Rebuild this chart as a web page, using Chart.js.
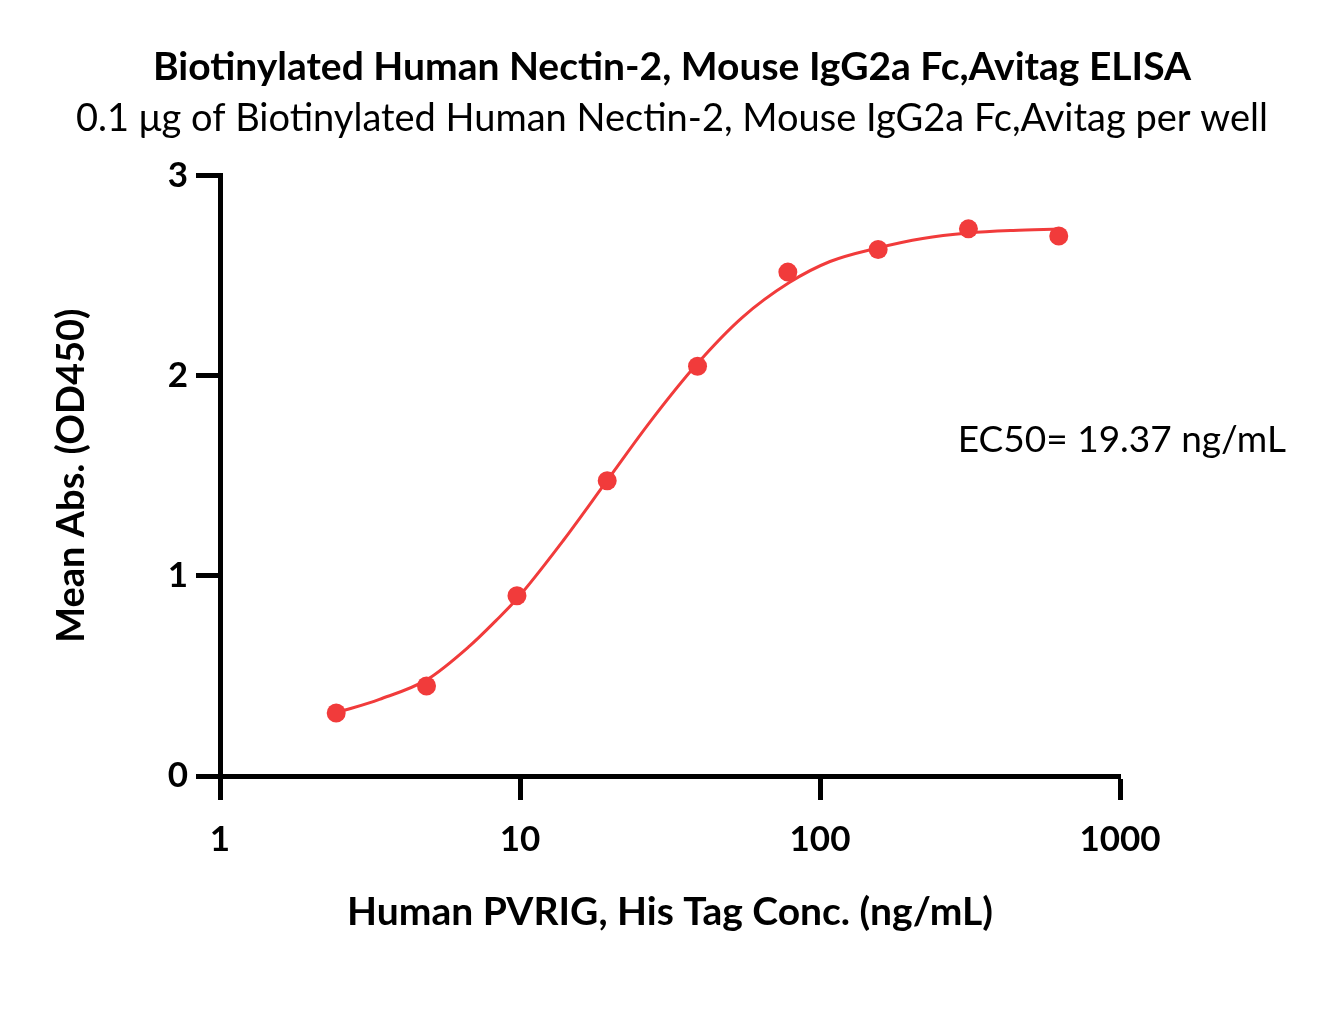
<!DOCTYPE html>
<html>
<head>
<meta charset="utf-8">
<title>Biotinylated Human Nectin-2 ELISA</title>
<script src="https://cdn.jsdelivr.net/npm/chart.js@4.4.1/dist/chart.umd.min.js"></script>
<style>
    html, body { margin: 0; padding: 0; background: #ffffff; }
    canvas { display: block; }
</style>
</head>
<body>
<canvas id="elisa-chart" width="1327" height="1032"></canvas>
<script>
// Measured points (ng/mL vs mean OD450)
const concentrations = [2.44, 4.88, 9.77, 19.53, 39.06, 78.13, 156.25, 312.5, 625];
const meanAbs = [0.315, 0.45, 0.90, 1.475, 2.047, 2.517, 2.63, 2.733, 2.697];

// Fitted curve
const curveConc = [2.44, 3.4, 4.88, 6.8, 8.3, 9.77, 14, 19.5, 27.5, 39, 55, 79, 108, 156, 220, 312, 440, 625];
const curveAbs = [0.315, 0.383, 0.48, 0.65, 0.775, 0.885, 1.18, 1.475, 1.78, 2.06, 2.29, 2.465, 2.57, 2.638, 2.685, 2.712, 2.725, 2.732];

// Axis ticks
const xTicks = [1, 10, 100, 1000];
const yTicks = [0, 1, 2, 3];

const titleText = 'Biotinylated Human Nectin-2, Mouse IgG2a Fc,Avitag ELISA';
const subtitleText = '0.1 \u03bcg of Biotinylated Human Nectin-2, Mouse IgG2a Fc,Avitag per well';
const xTitle = 'Human PVRIG, His Tag Conc. (ng/mL)';
const yTitle = 'Mean Abs. (OD450)';
const ec50Text = 'EC50= 19.37 ng/mL';

const RED = '#f13b3b';

Chart.defaults.font.family = "'Lato', 'Open Sans', sans-serif";
Chart.defaults.color = '#000000';

// EC50 label, anchored in data space
const ec50Label = {
    id: 'ec50Label',
    afterDatasetsDraw(chart) {
        const { ctx, scales } = chart;
        const x = scales.x.getPixelForValue(288);
        const y = scales.y.getPixelForValue(1.68);
        ctx.save();
        ctx.font = "37px 'Lato', sans-serif";
        ctx.fillStyle = '#000000';
        ctx.textAlign = 'left';
        ctx.textBaseline = 'middle';
        ctx.fillText(ec50Text, x, y);
        ctx.restore();
    }
};

const ctx = document.getElementById('elisa-chart');

window.elisaChart = new Chart(ctx, {
    type: 'scatter',
    data: {
        datasets: [{
            label: 'Mean Abs.',
            data: concentrations.map((c, i) => ({ x: c, y: meanAbs[i] })),
            backgroundColor: RED,
            borderColor: RED,
            pointRadius: 9.5,
            pointBorderWidth: 0,
            order: 0
        }, {
            label: 'Fit',
            data: curveConc.map((c, i) => ({ x: c, y: curveAbs[i] })),
            showLine: true,
            borderColor: RED,
            borderWidth: 3,
            pointRadius: 0,
            cubicInterpolationMode: 'monotone',
            order: 1
        }]
    },
    options: {
        responsive: false,
        animation: false,
        layout: {
            padding: { left: 17, right: 0, top: 0, bottom: 0 }
        },
        plugins: {
            legend: { display: false },
            tooltip: { enabled: false },
            title: {
                display: true,
                text: titleText,
                font: { size: 39, weight: 'bold' },
                padding: { top: 44, bottom: 0 }
            },
            subtitle: {
                display: true,
                text: subtitleText,
                font: { size: 38, weight: 'normal' },
                padding: { top: 5, bottom: 34 }
            }
        },
        scales: {
            x: {
                type: 'logarithmic',
                min: 1,
                max: 1000,
                afterBuildTicks: function(axis) {
                    axis.ticks = xTicks.map(v => ({ value: v }));
                },
                afterFit: function(scale) {
                    scale.height = 256;
                },
                border: { display: true, color: '#000000', width: 5 },
                grid: {
                    drawOnChartArea: false,
                    drawTicks: true,
                    tickLength: 24,
                    tickWidth: 5,
                    tickColor: '#000000'
                },
                ticks: {
                    padding: 19,
                    font: { size: 35, weight: 'bold' },
                    callback: function(value) {
                        return String(value);
                    }
                },
                title: {
                    display: true,
                    text: xTitle,
                    font: { size: 39, weight: 'bold' },
                    padding: { top: 0, bottom: 96 }
                }
            },
            y: {
                type: 'linear',
                min: 0,
                max: 3,
                afterBuildTicks: function(axis) {
                    axis.ticks = yTicks.map(v => ({ value: v }));
                },
                afterFit: function(scale) {
                    scale.width = 203;
                },
                border: { display: true, color: '#000000', width: 5 },
                grid: {
                    drawOnChartArea: false,
                    drawTicks: true,
                    tickLength: 24,
                    tickWidth: 5,
                    tickColor: '#000000'
                },
                ticks: {
                    padding: 8,
                    font: { size: 35, weight: 'bold' }
                },
                title: {
                    display: true,
                    text: yTitle,
                    font: { size: 38, weight: 'bold' },
                    padding: { top: 32, bottom: 0 }
                }
            },
            // empty right-hand margin so the titles centre on the page
            rightMargin: {
                position: 'right',
                display: true,
                border: { display: false },
                grid: { display: false },
                ticks: { display: false },
                afterFit: function(scale) {
                    scale.width = 207;
                }
            }
        }
    },
    plugins: [ec50Label]
});
</script>
</body>
</html>
